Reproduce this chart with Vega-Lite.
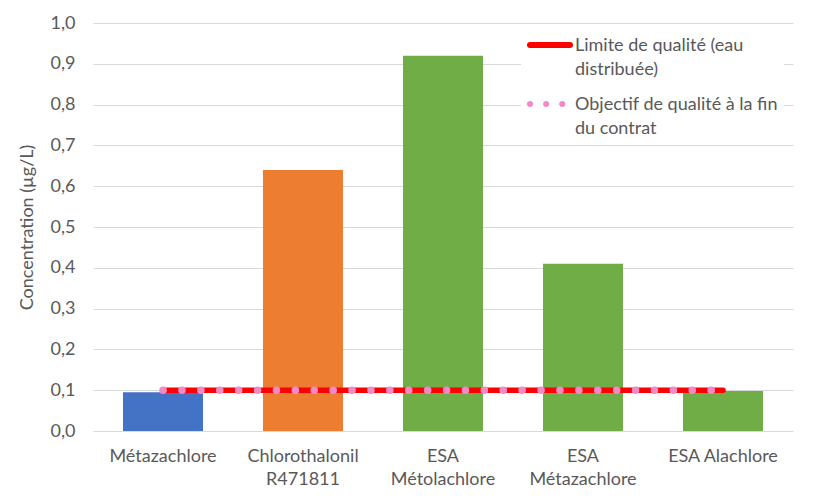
{
  "$schema": "https://vega.github.io/schema/vega-lite/v6.json",
  "width": 700,
  "height": 408,
  "autosize": {"type": "none"},
  "padding": {"left": 93, "top": 23, "right": 22, "bottom": 69},
  "background": "white",
  "config": {
    "view": {"stroke": null},
    "font": "Lato",
    "axis": {"labelFont": "Lato", "titleFont": "Lato", "labelColor": "#595959", "titleColor": "#595959", "labelFontSize": 18, "titleFontSize": 18, "titleFontWeight": "normal"},
    "legend": {"labelFont": "Lato", "labelFontSize": 18, "labelColor": "#595959"}
  },
  "layer": [
    {
      "data": {"values": [
        {"substance": "Métazachlore", "concentration": 0.095},
        {"substance": "Chlorothalonil R471811", "concentration": 0.64},
        {"substance": "ESA Métolachlore", "concentration": 0.92},
        {"substance": "ESA Métazachlore", "concentration": 0.41},
        {"substance": "ESA Alachlore", "concentration": 0.098}
      ]},
      "mark": {"type": "bar"},
      "encoding": {
        "x": {
          "field": "substance", "type": "nominal",
          "scale": {"domain": ["Métazachlore", "Chlorothalonil R471811", "ESA Métolachlore", "ESA Métazachlore", "ESA Alachlore"], "paddingInner": 0.4286, "paddingOuter": 0.2143},
          "axis": {"title": null, "labelAngle": 0, "ticks": false, "domain": false, "labelPadding": 16, "labelBaseline": "top", "labelLineHeight": 23, "labelLimit": 200,
                   "labelExpr": "datum.label == 'Métazachlore' || datum.label == 'ESA Alachlore' ? datum.label : split(datum.label, ' ')"}
        },
        "y": {
          "field": "concentration", "type": "quantitative",
          "scale": {"domain": [0, 1], "nice": false},
          "axis": {"title": "Concentration (µg/L)", "values": [0, 0.1, 0.2, 0.3, 0.4, 0.5, 0.6, 0.7, 0.8, 0.9, 1.0],
                   "labelExpr": "replace(format(datum.value, '.1f'), '.', ',')", "grid": true, "gridColor": "#d9d9d9", "domain": false, "ticks": false, "labelPadding": 18, "titlePadding": 14}
        },
        "color": {
          "field": "substance", "type": "nominal",
          "scale": {"domain": ["Métazachlore", "Chlorothalonil R471811", "ESA Métolachlore", "ESA Métazachlore", "ESA Alachlore"], "range": ["#4472C4", "#ED7D31", "#70AD47", "#70AD47", "#70AD47"]},
          "legend": null
        }
      }
    },
    {
      "layer": [
        {
          "data": {"values": [
            {"serie": "Limite de qualité (eau distribuée)", "substance": "Métazachlore", "valeur": 0.1},
            {"serie": "Limite de qualité (eau distribuée)", "substance": "Chlorothalonil R471811", "valeur": 0.1},
            {"serie": "Limite de qualité (eau distribuée)", "substance": "ESA Métolachlore", "valeur": 0.1},
            {"serie": "Limite de qualité (eau distribuée)", "substance": "ESA Métazachlore", "valeur": 0.1},
            {"serie": "Limite de qualité (eau distribuée)", "substance": "ESA Alachlore", "valeur": 0.1}
          ]},
          "mark": {"type": "line", "strokeCap": "round", "strokeWidth": 5.5},
          "encoding": {
            "x": {"field": "substance", "type": "nominal"},
            "y": {"field": "valeur", "type": "quantitative"},
            "color": {
              "field": "serie", "type": "nominal",
              "scale": {"domain": ["Limite de qualité (eau distribuée)", "Objectif de qualité à la fin du contrat"], "range": ["#FF0000", "#F08BC8"]},
              "legend": {
                "title": null, "orient": "none", "legendX": 428, "legendY": 8,
                "fillColor": "white", "padding": 6, "symbolType": "stroke", "symbolSize": 1600, "symbolStrokeWidth": 6,
                "labelLimit": 300, "labelOffset": 2, "rowPadding": 13,
                "labelExpr": "datum.label == 'Limite de qualité (eau distribuée)' ? ['Limite de qualité (eau', 'distribuée)'] : ['Objectif de qualité à la fin', 'du contrat']",
                "encode": {
                  "symbols": {"update": {"strokeCap": {"value": "round"}, "y": {"value": 8},
                                         "strokeDash": {"signal": "datum.value == 'Objectif de qualité à la fin du contrat' ? [0.1, 16] : [1, 0]"}}},
                  "labels": {"update": {"lineHeight": {"value": 24}, "y": {"value": 0}, "baseline": {"value": "top"}}}
                }
              }
            }
          }
        },
        {
          "data": {"values": [
            {"serie": "Objectif de qualité à la fin du contrat", "substance": "Métazachlore", "valeur": 0.1},
            {"serie": "Objectif de qualité à la fin du contrat", "substance": "Chlorothalonil R471811", "valeur": 0.1},
            {"serie": "Objectif de qualité à la fin du contrat", "substance": "ESA Métolachlore", "valeur": 0.1},
            {"serie": "Objectif de qualité à la fin du contrat", "substance": "ESA Métazachlore", "valeur": 0.1},
            {"serie": "Objectif de qualité à la fin du contrat", "substance": "ESA Alachlore", "valeur": 0.1}
          ]},
          "mark": {"type": "line", "strokeCap": "round", "strokeWidth": 7.5, "strokeDash": [0.1, 18.8]},
          "encoding": {
            "x": {"field": "substance", "type": "nominal"},
            "y": {"field": "valeur", "type": "quantitative"},
            "color": {"field": "serie", "type": "nominal"}
          }
        }
      ]
    }
  ],
  "resolve": {"scale": {"color": "independent"}}
}
